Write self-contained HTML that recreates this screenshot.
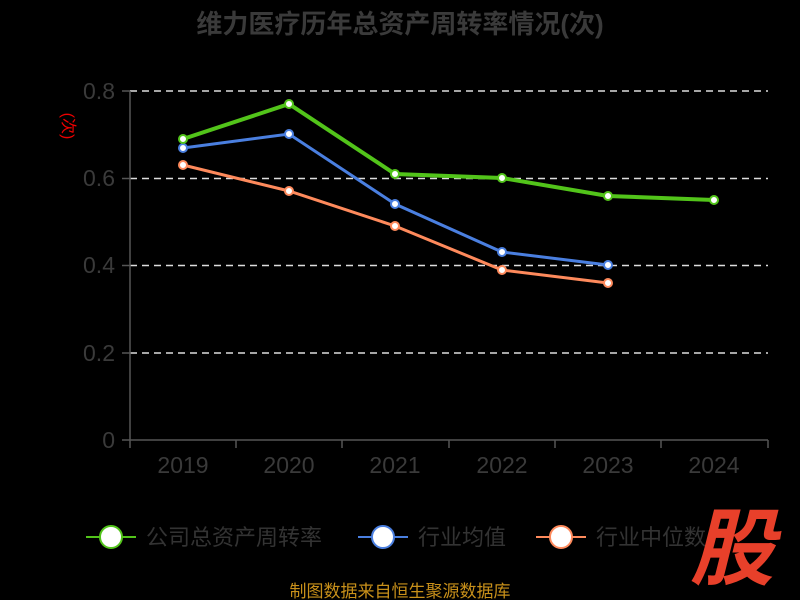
<!DOCTYPE html>
<html><head><meta charset="utf-8"><style>
html,body{margin:0;padding:0;background:#000;}
svg{display:block;font-family:"Liberation Sans","Noto Sans CJK SC",sans-serif;}
</style></head><body>
<svg width="800" height="600" viewBox="0 0 800 600">
<rect width="800" height="600" fill="#000"/>
<text x="400" y="33" text-anchor="middle" font-size="26" font-weight="bold" fill="#3a3a3a">维力医疗历年总资产周转率情况(次)</text>
<text x="0" y="0" transform="translate(63,126) rotate(90)" text-anchor="middle" font-size="16" fill="#e00">(次)</text>
<g stroke="#ddd" stroke-width="1.5" stroke-dasharray="7,5">
<line x1="130" y1="91" x2="768" y2="91"/><line x1="130" y1="178.5" x2="768" y2="178.5"/>
<line x1="130" y1="265.5" x2="768" y2="265.5"/><line x1="130" y1="353" x2="768" y2="353"/>
</g>
<g stroke="#555" stroke-width="1.5">
<line x1="130" y1="91" x2="130" y2="440"/><line x1="130" y1="440" x2="768" y2="440"/>
<line x1="122" y1="91" x2="130" y2="91"/><line x1="122" y1="178.5" x2="130" y2="178.5"/><line x1="122" y1="265.5" x2="130" y2="265.5"/><line x1="122" y1="353" x2="130" y2="353"/><line x1="122" y1="440" x2="130" y2="440"/>
<line x1="130" y1="440" x2="130" y2="448"/><line x1="236" y1="440" x2="236" y2="448"/><line x1="342" y1="440" x2="342" y2="448"/><line x1="449" y1="440" x2="449" y2="448"/><line x1="555" y1="440" x2="555" y2="448"/><line x1="661" y1="440" x2="661" y2="448"/><line x1="768" y1="440" x2="768" y2="448"/>
</g>
<g font-size="23" fill="#3a3a3a" text-anchor="end">
<text x="115" y="99">0.8</text><text x="115" y="186">0.6</text><text x="115" y="273">0.4</text><text x="115" y="361">0.2</text><text x="115" y="448">0</text>
</g>
<g font-size="23" fill="#3a3a3a" text-anchor="middle">
<text x="183" y="473">2019</text><text x="289" y="473">2020</text><text x="395" y="473">2021</text><text x="502" y="473">2022</text><text x="608" y="473">2023</text><text x="714" y="473">2024</text>
</g>
<polyline fill="none" stroke="#fe8a5c" stroke-width="3" points="183,165 289,191 395,226 502,270 608,283"/>
<polyline fill="none" stroke="#4a7fe0" stroke-width="3" points="183,148 289,134 395,204 502,252 608,265"/>
<polyline fill="none" stroke="#52c41a" stroke-width="4" points="183,139 289,104 395,174 502,178 608,196 714,200"/>
<g fill="#fff" stroke="#fe8a5c" stroke-width="2"><circle cx="183" cy="165" r="4"/><circle cx="289" cy="191" r="4"/><circle cx="395" cy="226" r="4"/><circle cx="502" cy="270" r="4"/><circle cx="608" cy="283" r="4"/></g>
<g fill="#fff" stroke="#4a7fe0" stroke-width="2"><circle cx="183" cy="148" r="4"/><circle cx="289" cy="134" r="4"/><circle cx="395" cy="204" r="4"/><circle cx="502" cy="252" r="4"/><circle cx="608" cy="265" r="4"/></g>
<g fill="#fff" stroke="#52c41a" stroke-width="2"><circle cx="183" cy="139" r="4"/><circle cx="289" cy="104" r="4"/><circle cx="395" cy="174" r="4"/><circle cx="502" cy="178" r="4"/><circle cx="608" cy="196" r="4"/><circle cx="714" cy="200" r="4"/></g>
<g font-size="22" fill="#333">
<line x1="86" y1="537" x2="136" y2="537" stroke="#52c41a" stroke-width="2"/><circle cx="111" cy="537" r="11" fill="#fff" stroke="#52c41a" stroke-width="2"/>
<text x="146" y="545">公司总资产周转率</text>
<line x1="358" y1="537" x2="408" y2="537" stroke="#4a7fe0" stroke-width="2"/><circle cx="383" cy="537" r="11" fill="#fff" stroke="#4a7fe0" stroke-width="2"/>
<text x="418" y="545">行业均值</text>
<line x1="536" y1="537" x2="586" y2="537" stroke="#fe8a5c" stroke-width="2"/><circle cx="561" cy="537" r="11" fill="#fff" stroke="#fe8a5c" stroke-width="2"/>
<text x="596" y="545">行业中位数</text>
</g>
<text x="732" y="578" text-anchor="middle" font-size="84" font-weight="bold" font-style="italic" fill="#e8402a">股</text>
<text x="400" y="597" text-anchor="middle" font-size="17" fill="#c8901a">制图数据来自恒生聚源数据库</text>
</svg>
</body></html>
